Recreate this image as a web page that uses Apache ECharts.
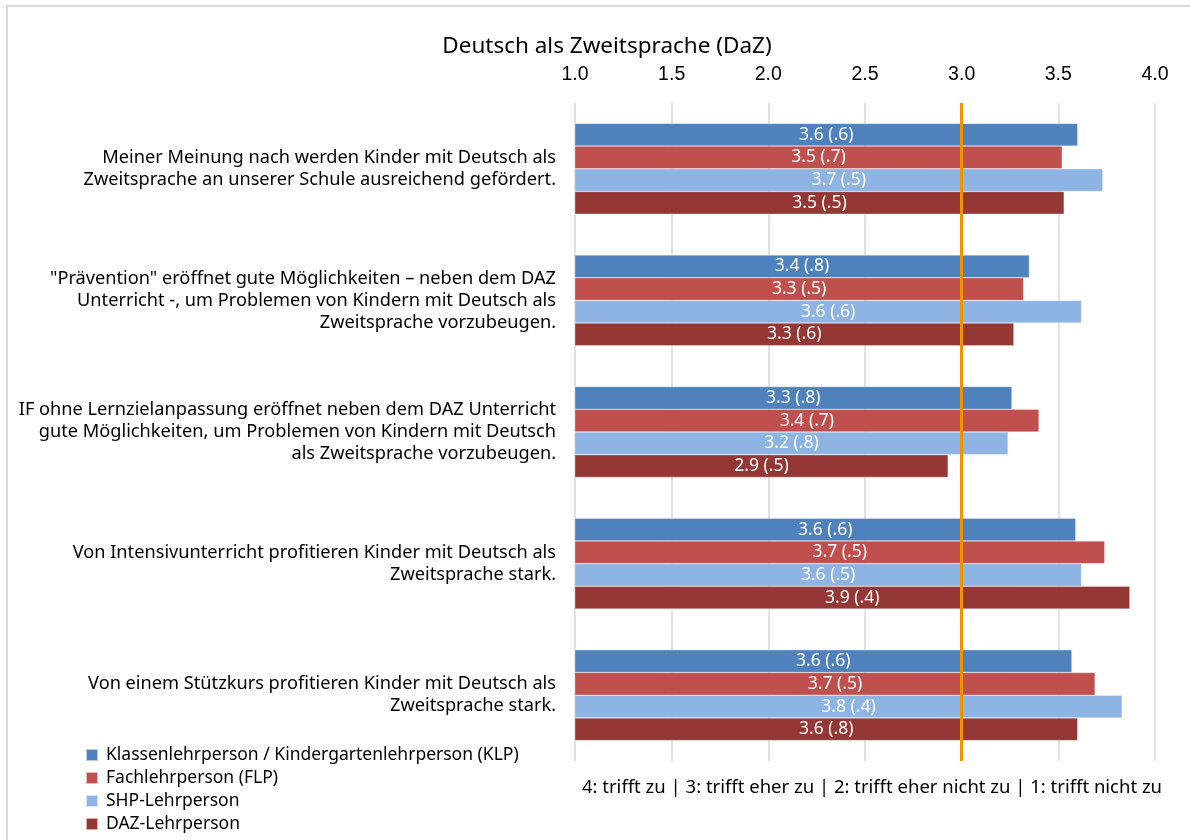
<!DOCTYPE html>
<html>
  <head>
    <meta charset="utf-8">
    <title>Deutsch als Zweitsprache (DaZ)</title>
    <script src="https://cdn.jsdelivr.net/npm/echarts@6/dist/echarts.min.js"></script>
    <style>
      body { margin: 0; background: #fff; }
      #chart { width: 1190px; height: 840px; }
    </style>
  </head>
  <body>
    <div id="chart"></div>
    <script type="text/javascript">

      // categories (top to bottom)
      var categories = [
        "Meiner Meinung nach werden Kinder mit Deutsch als\nZweitsprache an unserer Schule ausreichend gefördert.",
        "\"Prävention\" eröffnet gute Möglichkeiten – neben dem DAZ\nUnterricht -, um Problemen von Kindern mit Deutsch als\nZweitsprache vorzubeugen.",
        "IF ohne Lernzielanpassung eröffnet neben dem DAZ Unterricht\ngute Möglichkeiten, um Problemen von Kindern mit Deutsch\nals Zweitsprache vorzubeugen.",
        "Von Intensivunterricht profitieren Kinder mit Deutsch als\nZweitsprache stark.",
        "Von einem Stützkurs profitieren Kinder mit Deutsch als\nZweitsprache stark."
      ];

      var seriesNames = [
        "Klassenlehrperson / Kindergartenlehrperson (KLP)",
        "Fachlehrperson (FLP)",
        "SHP-Lehrperson",
        "DAZ-Lehrperson"
      ];

      // mean values per group
      var klpValues = [3.60, 3.35, 3.26, 3.59, 3.57];
      var flpValues = [3.52, 3.32, 3.40, 3.74, 3.69];
      var shpValues = [3.73, 3.62, 3.24, 3.62, 3.83];
      var dazValues = [3.53, 3.27, 2.93, 3.87, 3.60];

      // labels "mean (sd)"
      var klpLabels = ["3.6 (.6)", "3.4 (.8)", "3.3 (.8)", "3.6 (.6)", "3.6 (.6)"];
      var flpLabels = ["3.5 (.7)", "3.3 (.5)", "3.4 (.7)", "3.7 (.5)", "3.7 (.5)"];
      var shpLabels = ["3.7 (.5)", "3.6 (.6)", "3.2 (.8)", "3.6 (.5)", "3.8 (.4)"];
      var dazLabels = ["3.5 (.5)", "3.3 (.6)", "2.9 (.5)", "3.9 (.4)", "3.6 (.8)"];

      var tickValues = [1.0, 1.5, 2.0, 2.5, 3.0, 3.5, 4.0];

      var colors = ["#4F81BD", "#C0504D", "#8EB4E3", "#953735"];
      var scaleNote = "4: trifft zu | 3: trifft eher zu | 2: trifft eher nicht zu | 1: trifft nicht zu";

      var allValues = [klpValues, flpValues, shpValues, dazValues];
      var allLabels = [klpLabels, flpLabels, shpLabels, dazLabels];

      var textFont = "Noto Sans";

      var myChart = echarts.init(document.getElementById('chart'));

      var series = [];
      for (var s = 0; s < 4; s++) {
        (function (labels) {
          series.push({
            name: seriesNames[s],
            type: 'bar',
            data: allValues[s],
            barGap: '0%',
            barCategoryGap: '31%',
            itemStyle: { color: colors[s], borderColor: 'rgba(255,255,255,0.6)', borderWidth: 0.5 },
            label: {
              show: true,
              position: 'inside',
              color: '#fff',
              fontFamily: textFont,
              fontSize: 17.5,
              formatter: function (p) { return labels[p.dataIndex]; }
            }
          });
        })(allLabels[s]);
      }

      // reference line at 3.0
      series[0].markLine = {
        silent: true,
        symbol: ['none', 'none'],
        label: { show: false },
        lineStyle: { color: '#F39200', width: 3, type: 'solid' },
        data: [{ xAxis: 3 }]
      };

      var option = {
        animation: false,
        color: colors,
        title: [
          {
            text: 'Deutsch als Zweitsprache (DaZ)',
            left: 602, top: 30, textAlign: 'center',
            textStyle: { fontFamily: textFont, fontSize: 22.5, fontWeight: 'normal', color: '#000' }
          },
          {
            text: scaleNote,
            left: 867, top: 773, textAlign: 'center',
            textStyle: { fontFamily: textFont, fontSize: 18.5, fontWeight: 'normal', color: '#000' }
          }
        ],
        graphic: [{
          type: 'rect',
          shape: { x: 7, y: 6, width: 1300, height: 900 },
          style: { fill: 'none', stroke: '#d9d9d9', lineWidth: 2 },
          silent: true
        }],
        legend: {
          orient: 'vertical',
          left: 80, top: 741, height: 100,
          itemWidth: 12, itemHeight: 12, itemGap: 5,
          icon: 'rect',
          textStyle: { fontFamily: textFont, fontSize: 17.5, lineHeight: 18, color: '#000', padding: [0, 0, 0, 3] },
          data: seriesNames
        },
        grid: { left: 575, right: 35, top: 103, bottom: 79, containLabel: false },
        xAxis: {
          type: 'value',
          position: 'top',
          min: 1, max: 4, interval: 0.5,
          axisLine: { show: false },
          axisTick: { show: false },
          axisLabel: {
            fontFamily: 'Liberation Sans', fontSize: 19.5, color: '#000', margin: 18,
            formatter: function (v) { return tickValues.indexOf(v) >= 0 ? v.toFixed(1) : ''; }
          },
          splitLine: { show: true, lineStyle: { color: '#d9d9d9', width: 1.5 } }
        },
        yAxis: {
          type: 'category',
          inverse: true,
          data: categories,
          axisLine: { show: false },
          axisTick: { show: false },
          axisLabel: {
            fontFamily: textFont, fontSize: 18.2, color: '#000', margin: 19,
            align: 'right', lineHeight: 22
          }
        },
        series: series
      };

      myChart.setOption(option);
    </script>
  </body>
</html>
